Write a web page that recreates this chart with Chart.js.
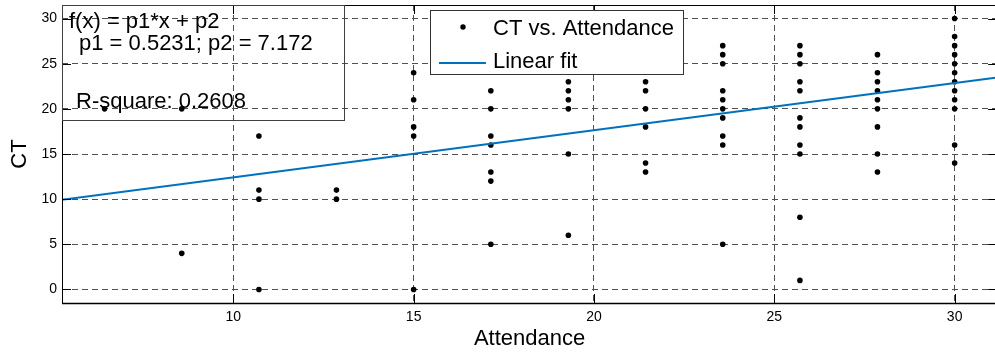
<!DOCTYPE html>
<html>
<head>
<meta charset="utf-8">
<title>CT vs. Attendance</title>
<script src="https://cdn.jsdelivr.net/npm/chart.js@4/dist/chart.umd.min.js"></script>
<style>
    html, body { margin: 0; padding: 0; background: #fff; overflow: hidden; }
    #fitChart { display: block; }
</style>
</head>
<body>
<canvas id="fitChart" width="1000" height="354"></canvas>
<script>
/* grafica de dispersion CT vs asistencia con ajuste lineal */

const attendanceLevels = [6.43, 8.57, 10.71, 12.86, 15, 17.14, 19.29, 21.43, 23.57, 25.71, 27.86, 30];
const ctByLevel = [
    [20],
    [20, 4],
    [17, 11, 10, 0],
    [11, 10],
    [24, 21, 18, 17, 0],
    [22, 20, 17, 16, 13, 12, 5],
    [23, 22, 21, 20, 15, 6],
    [23, 22, 20, 18, 14, 13],
    [27, 26, 25, 22, 21, 20, 19, 17, 16, 5],
    [27, 26, 25, 23, 22, 19, 18, 16, 15, 8, 1],
    [26, 24, 23, 22, 21, 20, 18, 15, 13],
    [30, 28, 27, 26, 25, 24, 23, 22, 21, 20, 16, 14]
];

// extremos de la recta de ajuste
const fitX = [5.25, 31.18];
const fitY = [9.92, 23.48];

// ticks de los ejes
const xTickValues = [10, 15, 20, 25, 30];
const yTickValues = [0, 5, 10, 15, 20, 25, 30];

// textos del recuadro del ajuste
const fitText = ['f(x) = p1*x + p2', 'p1 = 0.5231; p2 = 7.172', 'R-square: 0.2608'];

const FONT = "'Liberation Sans', Arial, sans-serif";
const GRID_COLOR = '#505050';
const LINE_COLOR = '#0072BD';

function buildScatterPoints() {
    const points = [];
    attendanceLevels.forEach((x, i) => {
        ctByLevel[i].forEach(y => points.push({ x: x, y: y }));
    });
    return points;
}

function buildFitPoints() {
    return fitX.map((x, i) => ({ x: x, y: fitY[i] }));
}

//caja de ejes, ticks interiores, recuadro del ajuste y leyenda
const matlabDecor = {
    id: 'matlabDecor',
    afterDatasetsDraw(chart) {
        const ctx = chart.ctx;
        const area = chart.chartArea;
        const xs = chart.scales.x;
        const ys = chart.scales.y;
        const tickLen = 9;

        ctx.save();
        ctx.strokeStyle = '#000';
        ctx.lineWidth = 1;
        ctx.beginPath();
        xTickValues.forEach(v => {
            const px = Math.round(xs.getPixelForValue(v)) + 0.5;
            ctx.moveTo(px, area.bottom); ctx.lineTo(px, area.bottom - tickLen);
            ctx.moveTo(px, area.top); ctx.lineTo(px, area.top + tickLen);
        });
        yTickValues.forEach(v => {
            const py = Math.round(ys.getPixelForValue(v)) + 0.5;
            ctx.moveTo(area.left, py); ctx.lineTo(area.left + tickLen, py);
            ctx.moveTo(area.right, py); ctx.lineTo(area.right - tickLen, py);
        });
        ctx.stroke();

        // marco de los ejes
        ctx.strokeRect(area.left + 0.5, area.top + 0.5, area.right - area.left, area.bottom - area.top);
        ctx.lineWidth = 1.5;
        ctx.beginPath();
        ctx.moveTo(area.left, area.bottom + 0.5);
        ctx.lineTo(area.right, area.bottom + 0.5);
        ctx.stroke();

        // recuadro con la ecuacion (sin fondo)
        ctx.lineWidth = 1;
        ctx.strokeStyle = '#404040';
        ctx.strokeRect(area.left + 0.5, area.top + 0.5, 282, 115);
        ctx.fillStyle = '#000';
        ctx.font = '22px ' + FONT;
        ctx.textBaseline = 'alphabetic';
        ctx.textAlign = 'left';
        ctx.fillText(fitText[0], 69, 28);
        ctx.fillText(fitText[1], 79, 50);
        ctx.fillText(fitText[2], 76, 108);

        // leyenda con fondo blanco
        const scatterSet = chart.data.datasets[1];
        const lineSet = chart.data.datasets[0];
        ctx.fillStyle = '#fff';
        ctx.fillRect(430, 10, 253, 64);
        ctx.strokeStyle = '#333';
        ctx.strokeRect(430.5, 10.5, 253, 64);

        ctx.fillStyle = scatterSet.backgroundColor;
        ctx.beginPath();
        ctx.arc(463, 27, 2.7, 0, Math.PI * 2);
        ctx.fill();

        ctx.strokeStyle = lineSet.borderColor;
        ctx.lineWidth = lineSet.borderWidth;
        ctx.beginPath();
        ctx.moveTo(439, 63);
        ctx.lineTo(486, 63);
        ctx.stroke();

        ctx.fillStyle = '#000';
        ctx.font = '22px ' + FONT;
        ctx.fillText(scatterSet.label, 493, 35);
        ctx.fillText(lineSet.label, 493, 68);
        ctx.restore();
    }
};

function renderFitChart() {
    const ctx = document.getElementById('fitChart');

    const chartData = {
        datasets: [
            {
                label: 'Linear fit',
                data: buildFitPoints(),
                showLine: true,
                borderColor: LINE_COLOR,
                backgroundColor: LINE_COLOR,
                borderWidth: 2,
                pointRadius: 0,
                pointHoverRadius: 0,
                fill: false,
                order: 0
            },
            {
                label: 'CT vs. Attendance',
                data: buildScatterPoints(),
                backgroundColor: '#000',
                borderColor: '#000',
                borderWidth: 0,
                pointRadius: 2.8,
                pointHoverRadius: 2.8,
                order: 1
            }
        ]
    };

    const options = {
        responsive: false,
        animation: false,
        devicePixelRatio: 1,
        layout: {
            padding: { top: 5, right: 2, left: 0, bottom: 0 }
        },
        scales: {
            x: {
                type: 'linear',
                min: fitX[0],
                max: fitX[1],
                afterBuildTicks: scale => {
                    scale.ticks = xTickValues.map(v => ({ value: v }));
                },
                afterFit: scale => {
                    scale.height = 51;
                    scale.paddingLeft = 0;
                    scale.paddingRight = 0;
                },
                ticks: {
                    color: '#000',
                    padding: 6,
                    maxRotation: 0,
                    font: { family: FONT, size: 14 }
                },
                title: {
                    display: true,
                    text: 'Attendance',
                    color: '#000',
                    font: { family: FONT, size: 22 },
                    padding: { top: 0, bottom: 2 }
                },
                grid: {
                    color: GRID_COLOR,
                    lineWidth: 1,
                    drawTicks: false
                },
                border: {
                    display: false,
                    dash: [6, 4]
                }
            },
            y: {
                type: 'linear',
                min: -1.5,
                max: 31.5,
                afterBuildTicks: scale => {
                    scale.ticks = yTickValues.map(v => ({ value: v }));
                },
                afterFit: scale => {
                    scale.width = 62;
                    scale.paddingTop = 0;
                    scale.paddingBottom = 0;
                },
                ticks: {
                    color: '#000',
                    padding: 5,
                    font: { family: FONT, size: 14 }
                },
                title: {
                    display: true,
                    text: 'CT',
                    color: '#000',
                    font: { family: FONT, size: 22 },
                    padding: { top: 7, bottom: 0 }
                },
                grid: {
                    color: GRID_COLOR,
                    lineWidth: 1,
                    drawTicks: false
                },
                border: {
                    display: false,
                    dash: [6, 4]
                }
            }
        },
        plugins: {
            legend: { display: false },
            tooltip: { enabled: false },
            title: { display: false }
        }
    };

    new Chart(ctx, {
        type: 'scatter',
        data: chartData,
        options: options,
        plugins: [matlabDecor]
    });
}

renderFitChart();
</script>
</body>
</html>
